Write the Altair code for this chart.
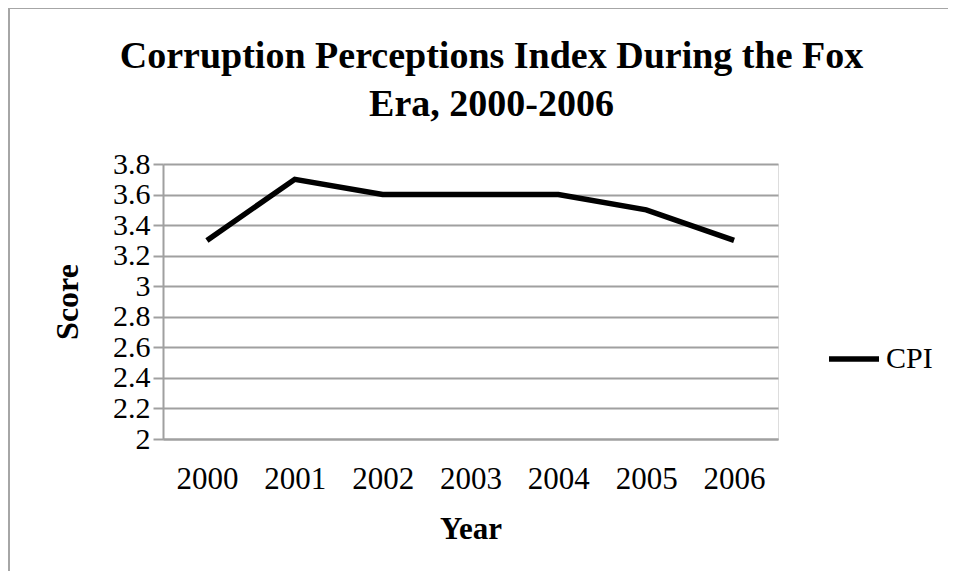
import altair as alt
import pandas as pd

years = ["2000", "2001", "2002", "2003", "2004", "2005", "2006"]
cpi = [3.3, 3.7, 3.6, 3.6, 3.6, 3.5, 3.3]
series = ["CPI"] * len(years)
y_ticks = [2, 2.2, 2.4, 2.6, 2.8, 3, 3.2, 3.4, 3.6, 3.8]

df = pd.DataFrame({"Year": years, "Score": cpi, "Series": series})

FONT = "Liberation Serif"
GRID = "#a0a0a0"

line = alt.Chart(df).mark_line(strokeWidth=5.5, color="black", strokeCap="butt", strokeJoin="miter").encode(
    x=alt.X("Year:O", title="Year",
            scale=alt.Scale(type="point", padding=0.5),
            axis=alt.Axis(labelAngle=0, ticks=False, tickSize=0, grid=False, domain=True,
                          domainColor=GRID, domainWidth=2,
                          labelFont=FONT, labelFontSize=31, labelColor="black", labelPadding=25,
                          titleFont=FONT, titleFontSize=31, titleFontWeight="bold",
                          titleColor="black", titlePadding=20)),
    y=alt.Y("Score:Q", title="Score",
            scale=alt.Scale(domain=[2, 3.8], nice=False, zero=False),
            axis=alt.Axis(values=y_ticks, format=".1~f", grid=True, gridColor=GRID, gridWidth=2,
                          ticks=True, tickColor=GRID, tickSize=10, tickWidth=2,
                          domain=True, domainColor=GRID, domainWidth=2,
                          labelFont=FONT, labelFontSize=30, labelColor="black", labelPadding=3,
                          titleFont=FONT, titleFontSize=32, titleFontWeight="bold",
                          titleColor="black", titlePadding=28)),
    color=alt.Color("Series:N", scale=alt.Scale(range=["black"]),
                    legend=alt.Legend(title=None, orient="none", legendX=663, legendY=167,
                                      symbolType="stroke", symbolSize=2500, symbolStrokeWidth=5.5,
                                      labelFont=FONT, labelFontSize=30, labelColor="black",
                                      labelOffset=4)),
)

frame_data = alt.Data(values=[{"k": 1}])
top_edge = alt.Chart(frame_data).mark_rule(stroke="#a6a6a6", strokeWidth=2).encode(
    x=alt.value(-155), x2=alt.value(800), y=alt.value(-156)
)
left_edge = alt.Chart(frame_data).mark_rule(stroke="#a6a6a6", strokeWidth=2).encode(
    x=alt.value(-154), y=alt.value(-157), y2=alt.value(600)
)

chart = alt.layer(top_edge, left_edge, line).properties(
    width=615,
    height=275,
    title=alt.TitleParams(
        text=["Corruption Perceptions Index During the Fox", "Era, 2000-2006"],
        font=FONT, fontSize=38, fontWeight="bold", color="black",
        anchor="middle", frame="group", dx=21, offset=-148, lineHeight=48,
        baseline="alphabetic",
    ),
    autosize=alt.AutoSizeParams(type="none"),
    padding={"left": 155, "top": 156, "right": 170, "bottom": 132},
).configure_view(stroke=None).configure(background="white")

chart.save("out.html", embed_options={"renderer": "svg", "actions": False})
